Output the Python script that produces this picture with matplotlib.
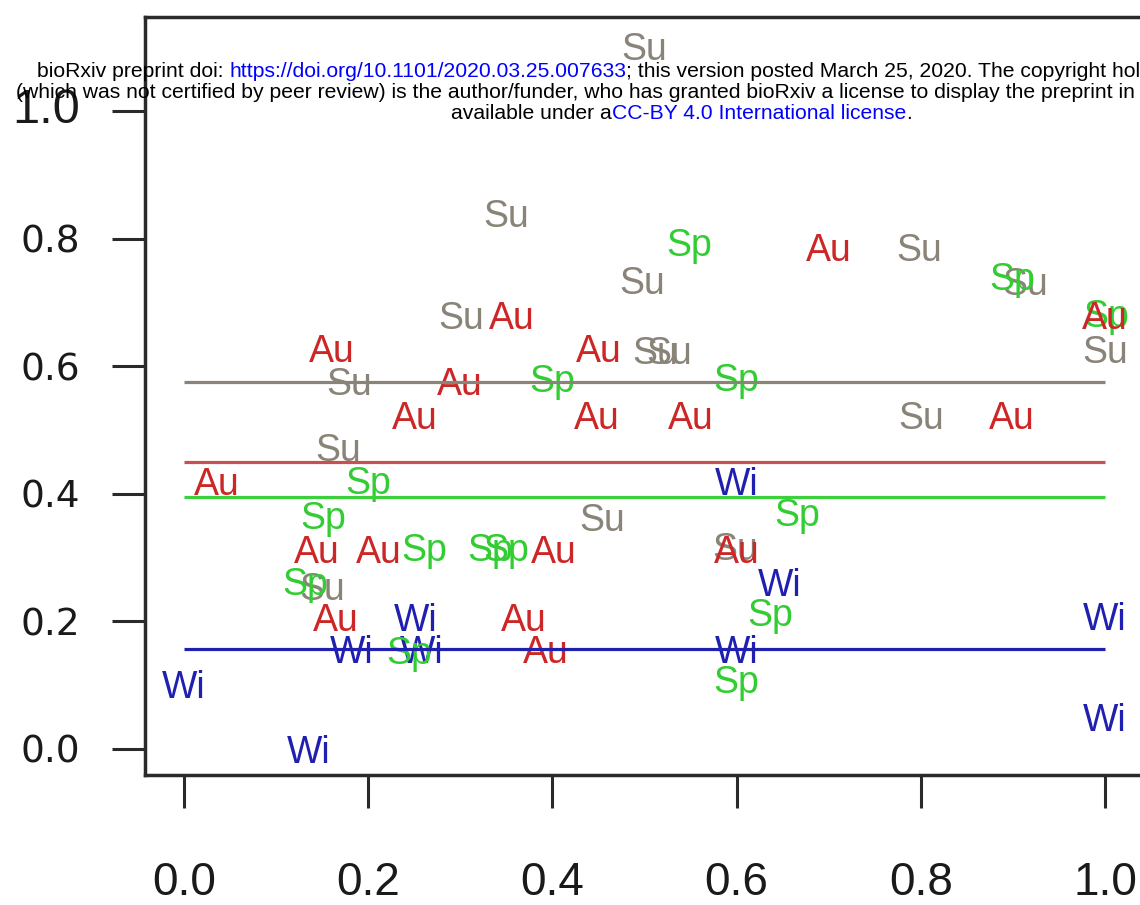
import matplotlib
matplotlib.use('Agg')
import matplotlib.pyplot as plt
import matplotlib.transforms as mtrans

# ---------------- data ----------------
su_x = [0.500, 0.350, 0.497, 0.301, 0.179, 0.167, 0.512, 0.527, 0.798, 0.913, 1.000, 0.800, 0.454, 0.150, 0.598]
su_y = [1.102, 0.841, 0.736, 0.681, 0.577, 0.474, 0.626, 0.626, 0.787, 0.734, 0.627, 0.524, 0.364, 0.256, 0.318]

au_x = [0.356, 0.161, 0.299, 0.450, 0.251, 0.448, 0.700, 1.000, 0.550, 0.899, 0.036, 0.144, 0.211, 0.402,
        0.165, 0.369, 0.393, 0.600]
au_y = [0.681, 0.629, 0.577, 0.629, 0.524, 0.524, 0.787, 0.681, 0.524, 0.524, 0.420, 0.314, 0.314, 0.314,
        0.207, 0.207, 0.157, 0.314]

sp_x = [0.400, 0.549, 0.899, 1.001, 0.600, 0.200, 0.151, 0.261, 0.333, 0.350, 0.132, 0.245, 0.666, 0.637, 0.600]
sp_y = [0.582, 0.795, 0.742, 0.684, 0.584, 0.422, 0.367, 0.317, 0.317, 0.317, 0.264, 0.155, 0.372, 0.215, 0.110]

wi_x = [0.251, 0.182, 0.258, 0.000, 0.135, 0.600, 0.647, 1.000, 0.600, 1.000]
wi_y = [0.207, 0.157, 0.157, 0.102, 0.000, 0.420, 0.262, 0.209, 0.157, 0.050]

season_labels = ["Su", "Wi", "Sp", "Au"]
season_means = {"Su": 0.576, "Au": 0.450, "Sp": 0.395, "Wi": 0.157}

x_ticks = [0.0, 0.2, 0.4, 0.6, 0.8, 1.0]
x_tick_labels = ["0.0", "0.2", "0.4", "0.6", "0.8", "1.0"]
y_ticks = [0.0, 0.2, 0.4, 0.6, 0.8, 1.0]
y_tick_labels = ["0.0", "0.2", "0.4", "0.6", "0.8", "1.0"]

header_line1 = [("bioRxiv preprint doi: ", "black"),
                ("https://doi.org/10.1101/2020.03.25.007633", "#0000FF"),
                ("; this version posted March 25, 2020. The copyright holder for this preprint", "black")]
header_line2 = [("(which was not certified by peer review) is the author/funder, who has granted bioRxiv "
                 "a license to display the preprint in perpetuity. It is made", "black")]
header_line3 = [("available under a", "black"),
                ("CC-BY 4.0 International license", "#0000FF"),
                (".", "black")]

# ---------------- styling ----------------
text_colors = {"Su": "#8A8378", "Au": "#CD2626", "Sp": "#32CD32", "Wi": "#2020B0"}
line_colors = {"Su": "#8A8378", "Au": "#C95050", "Sp": "#3CD03C", "Wi": "#2020B0"}
FONT = "Liberation Sans"

W, H = 1140, 905
fig = plt.figure(figsize=(W / 100, H / 100), dpi=100)
L, R, B, T = 145, 1141, 775, 17
ax = fig.add_axes([L / W, (H - B) / H, (R - L) / W, (B - T) / H])
ax.set_xlim(-0.0423, 1.039)
ax.set_ylim(-0.0408, 1.148)

for s in ax.spines.values():
    s.set_linewidth(2.5)
    s.set_color("#2a2a2a")

ax.set_xticks(x_ticks)
ax.set_xticklabels(x_tick_labels)
ax.set_yticks(y_ticks)
ax.set_yticklabels(y_tick_labels)
ax.tick_params(axis="x", direction="out", length=24, width=2.2, pad=38, labelsize=33,
               color="#2a2a2a", labelcolor="#1a1a1a")
ax.tick_params(axis="y", direction="out", length=24, width=2.2, pad=23, labelsize=27,
               color="#2a2a2a", labelcolor="#1a1a1a")
for lbl in ax.get_xticklabels():
    lbl.set_fontfamily(FONT)
for lbl in ax.get_yticklabels():
    lbl.set_fontfamily("DejaVu Sans")
ylbls = ax.get_yticklabels()
ylbls[-1].set_fontfamily(FONT)
ylbls[-1].set_fontsize(35)
ylbls[-1].set_transform(ylbls[-1].get_transform() +
                        mtrans.ScaledTranslation(0, 6 / 100, fig.dpi_scale_trans))

series = {"Su": (su_x, su_y), "Wi": (wi_x, wi_y), "Sp": (sp_x, sp_y), "Au": (au_x, au_y)}
for k, name in enumerate(season_labels):
    xs, ys = series[name]
    for x, y in zip(xs, ys):
        ax.text(x, y, name, color=text_colors[name], fontsize=27, family=FONT,
                ha="center", va="center_baseline", zorder=3 + 0.1 * k)

for name in ["Su", "Au", "Sp", "Wi"]:
    ax.hlines(season_means[name], 0, 1, colors=line_colors[name], lw=2.3, zorder=5)

# ---------------- bioRxiv header ----------------
renderer = fig.canvas.get_renderer()


def width_px(s, size):
    t = fig.text(0, 0, s, fontsize=size, family=FONT)
    w = t.get_window_extent(renderer).width
    t.remove()
    return w


line3_text = "".join(p for p, _ in header_line3)
hsize = 14 * 466 / width_px(line3_text, 14)


def draw_line(pieces, x0, base):
    cum = ""
    for i, (s, c) in enumerate(pieces):
        cum += s
        if i == 0:
            fig.text(x0 / W, (H - base) / H, s, color=c, fontsize=hsize, family=FONT,
                     ha="left", va="baseline")
        else:
            xr = x0 + width_px(cum, hsize)
            fig.text(xr / W, (H - base) / H, s, color=c, fontsize=hsize, family=FONT,
                     ha="right", va="baseline")


draw_line(header_line1, 37, 77)
draw_line(header_line2, 16, 98)
draw_line(header_line3, 451, 119)

fig.savefig("out.png", dpi=100)
